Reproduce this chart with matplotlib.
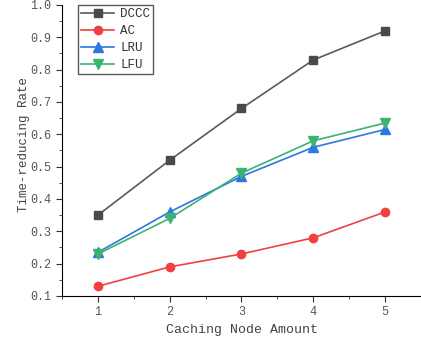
import matplotlib.pyplot as plt
from matplotlib.ticker import MultipleLocator

plt.rcParams['font.family'] = ['Liberation Mono', 'DejaVu Sans Mono']

nodos = [1, 2, 3, 4, 5]
dccc = [0.35, 0.52, 0.68, 0.83, 0.92]
ac = [0.13, 0.19, 0.23, 0.28, 0.36]
lru = [0.235, 0.36, 0.47, 0.56, 0.615]
lfu = [0.23, 0.34, 0.48, 0.58, 0.635]

fig = plt.figure(figsize=(4.21, 3.42), dpi=100)
ax = fig.add_axes([62 / 421, 1 - 296 / 342, 359 / 421, 291 / 342])

ax.plot(nodos, dccc, color='#5a5a5a', marker='s', ms=5.5, mfc='#4a4a4a', mec='#4a4a4a', lw=1.2, label='DCCC')
ax.plot(nodos, ac, color='#f04040', marker='o', ms=6, lw=1.2, label='AC')
ax.plot(nodos, lru, color='#2a78e0', marker='^', ms=6.5, lw=1.2, label='LRU')
ax.plot(nodos, lfu, color='#3cb371', marker='v', ms=6.5, lw=1.2, label='LFU')

ax.set_xlim(0.5, 5.5)
ax.set_ylim(0.1, 1.0)
ax.xaxis.set_major_locator(MultipleLocator(1))
ax.xaxis.set_minor_locator(MultipleLocator(0.5))
ax.yaxis.set_major_locator(MultipleLocator(0.1))
ax.yaxis.set_minor_locator(MultipleLocator(0.05))
ax.spines['top'].set_visible(False)
ax.spines['right'].set_visible(False)
ax.tick_params(which='major', length=4, labelsize=8.5, colors='#333333', labelcolor='#555555')
ax.tick_params(which='minor', length=2.5, colors='#333333')
ax.set_xticks([1, 2, 3, 4, 5])
ax.set_xlabel('Caching Node Amount', fontsize=9.5, color='#444444')
ax.set_ylabel('Time-reducing Rate', fontsize=9, color='#444444')
ax.yaxis.set_label_coords(-0.09, 0.52)

leg = ax.legend(loc='upper left', bbox_to_anchor=(0.045, 1.0), borderaxespad=0, fontsize=9,
                frameon=True, fancybox=False, edgecolor='#333333', borderpad=0.25,
                labelspacing=0.4, handlelength=2.6, handletextpad=0.5)
leg.get_frame().set_linewidth(1.0)
for t in leg.get_texts():
    t.set_color('#333333')

fig.savefig('out.png', dpi=100)
